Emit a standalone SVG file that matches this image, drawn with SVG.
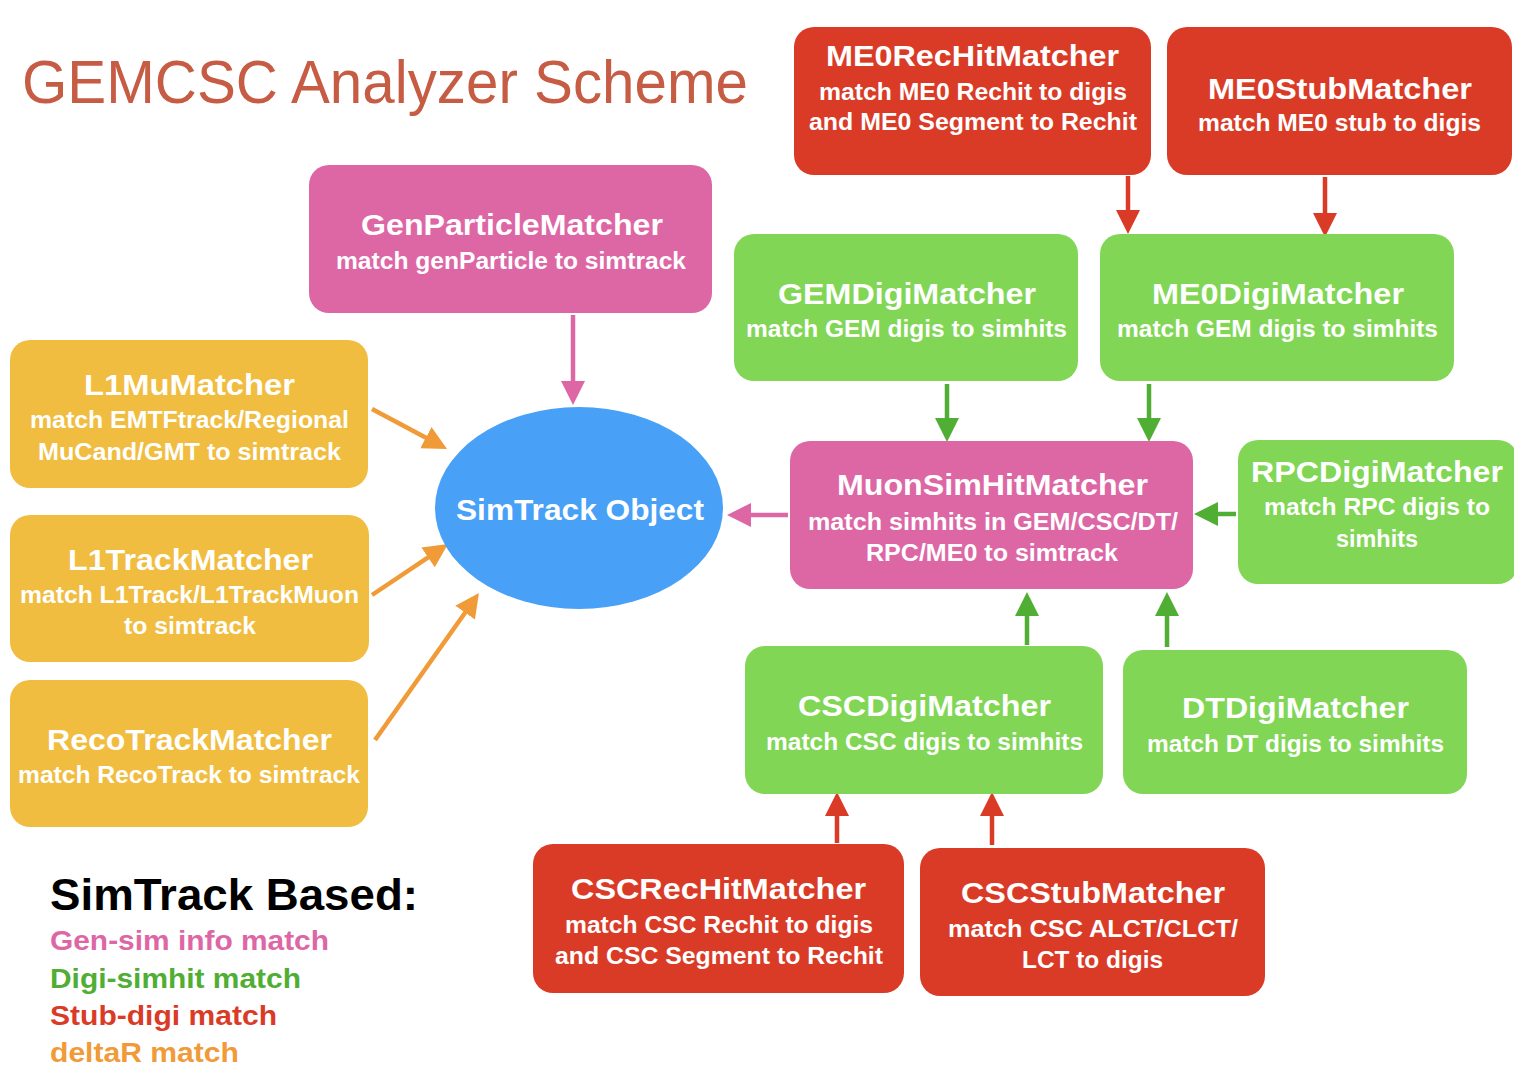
<svg xmlns="http://www.w3.org/2000/svg" width="1514" height="1080" viewBox="0 0 1514 1080">
<defs>
<style>
.t{font-family:"Liberation Sans",Arial,sans-serif;font-weight:bold;fill:#fff;text-anchor:middle}
.h{font-size:29px}
.s{font-size:23px}
.red{fill:#DA3B27}
.pink{fill:#DD67A5}
.green{fill:#81D655}
.yel{fill:#F0BD40}
.lg{font-family:"Liberation Sans",Arial,sans-serif;font-weight:bold;font-size:28px}
.c{fill:none;stroke-width:4.5}
</style>
<marker id="mP" markerUnits="userSpaceOnUse" markerWidth="26" markerHeight="26" refX="14" refY="12" orient="auto"><path d="M0,0 L24,12 L0,24 z" fill="#DD67A5"/></marker>
<marker id="mG" markerUnits="userSpaceOnUse" markerWidth="26" markerHeight="26" refX="14" refY="12" orient="auto"><path d="M0,0 L24,12 L0,24 z" fill="#4FAE33"/></marker>
<marker id="mR" markerUnits="userSpaceOnUse" markerWidth="26" markerHeight="26" refX="14" refY="12" orient="auto"><path d="M0,0 L24,12 L0,24 z" fill="#DA3B27"/></marker>
<marker id="mO" markerUnits="userSpaceOnUse" markerWidth="26" markerHeight="26" refX="14" refY="12" orient="auto"><path d="M0,0 L24,12 L0,24 z" fill="#F09A38"/></marker>
</defs>
<rect width="1514" height="1080" fill="#fff"/>
<text x="22" y="103" font-family="Liberation Sans, Arial, sans-serif" font-size="62" fill="#C65C44" textLength="726" lengthAdjust="spacingAndGlyphs">GEMCSC Analyzer Scheme</text>

<g id="connectors">
<path class="c" stroke="#DD67A5" d="M573,315 L573,395" marker-end="url(#mP)"/>
<path class="c" stroke="#DD67A5" d="M788,515 L737,515" marker-end="url(#mP)"/>
<path class="c" stroke="#F09A38" stroke-width="5" d="M372,409 L438.2,444.3" marker-end="url(#mO)"/>
<path class="c" stroke="#F09A38" stroke-width="5" d="M372,595 L439.7,549.6" marker-end="url(#mO)"/>
<path class="c" stroke="#F09A38" stroke-width="5" d="M375,740 L473.2,601.2" marker-end="url(#mO)"/>
<path class="c" stroke="#4FAE33" d="M947,384 L947,432" marker-end="url(#mG)"/>
<path class="c" stroke="#4FAE33" d="M1149,384 L1149,432" marker-end="url(#mG)"/>
<path class="c" stroke="#4FAE33" d="M1236,514 L1204,514" marker-end="url(#mG)"/>
<path class="c" stroke="#4FAE33" d="M1027,645 L1027,602" marker-end="url(#mG)"/>
<path class="c" stroke="#4FAE33" d="M1167,647 L1167,602" marker-end="url(#mG)"/>
<path class="c" stroke="#DA3B27" d="M1128,176 L1128,224" marker-end="url(#mR)"/>
<path class="c" stroke="#DA3B27" d="M1325,177 L1325,227" marker-end="url(#mR)"/>
<path class="c" stroke="#DA3B27" d="M837,843 L837,802" marker-end="url(#mR)"/>
<path class="c" stroke="#DA3B27" d="M992,845 L992,802" marker-end="url(#mR)"/>
</g>

<g id="me0rechit">
<rect class="red" x="794" y="27" width="357" height="148" rx="20"/>
<text class="t h" x="972.5" y="66" textLength="293" lengthAdjust="spacingAndGlyphs">ME0RecHitMatcher</text>
<text class="t s" x="973" y="100" textLength="308" lengthAdjust="spacingAndGlyphs">match ME0 Rechit to digis</text>
<text class="t s" x="973" y="130" textLength="328" lengthAdjust="spacingAndGlyphs">and ME0 Segment to Rechit</text>
</g>
<g id="me0stub">
<rect class="red" x="1167" y="27" width="345" height="148" rx="20"/>
<text class="t h" x="1340" y="99" textLength="264" lengthAdjust="spacingAndGlyphs">ME0StubMatcher</text>
<text class="t s" x="1339.5" y="131" textLength="283" lengthAdjust="spacingAndGlyphs">match ME0 stub to digis</text>
</g>
<g id="genparticle">
<rect class="pink" x="309" y="165" width="403" height="148" rx="20"/>
<text class="t h" x="512" y="235" textLength="302" lengthAdjust="spacingAndGlyphs">GenParticleMatcher</text>
<text class="t s" x="511" y="269" textLength="350" lengthAdjust="spacingAndGlyphs">match genParticle to simtrack</text>
</g>
<g id="gemdigi">
<rect class="green" x="734" y="234" width="344" height="147" rx="20"/>
<text class="t h" x="907" y="304" textLength="258" lengthAdjust="spacingAndGlyphs">GEMDigiMatcher</text>
<text class="t s" x="906.5" y="337" textLength="321" lengthAdjust="spacingAndGlyphs">match GEM digis to simhits</text>
</g>
<g id="me0digi">
<rect class="green" x="1100" y="234" width="354" height="147" rx="20"/>
<text class="t h" x="1278" y="304" textLength="252" lengthAdjust="spacingAndGlyphs">ME0DigiMatcher</text>
<text class="t s" x="1277.5" y="337" textLength="321" lengthAdjust="spacingAndGlyphs">match GEM digis to simhits</text>
</g>
<g id="l1mu">
<rect class="yel" x="10" y="340" width="358" height="148" rx="20"/>
<text class="t h" x="189.5" y="395" textLength="211" lengthAdjust="spacingAndGlyphs">L1MuMatcher</text>
<text class="t s" x="189.5" y="428" textLength="319" lengthAdjust="spacingAndGlyphs">match EMTFtrack/Regional</text>
<text class="t s" x="189.5" y="460" textLength="303" lengthAdjust="spacingAndGlyphs">MuCand/GMT to simtrack</text>
</g>
<g id="l1track">
<rect class="yel" x="10" y="515" width="359" height="147" rx="20"/>
<text class="t h" x="190.5" y="570" textLength="245" lengthAdjust="spacingAndGlyphs">L1TrackMatcher</text>
<text class="t s" x="189.5" y="603" textLength="339" lengthAdjust="spacingAndGlyphs">match L1Track/L1TrackMuon</text>
<text class="t s" x="190" y="634" textLength="132" lengthAdjust="spacingAndGlyphs">to simtrack</text>
</g>
<g id="recotrack">
<rect class="yel" x="10" y="680" width="358" height="147" rx="20"/>
<text class="t h" x="189.5" y="750" textLength="285" lengthAdjust="spacingAndGlyphs">RecoTrackMatcher</text>
<text class="t s" x="189" y="783" textLength="342" lengthAdjust="spacingAndGlyphs">match RecoTrack to simtrack</text>
</g>
<g id="simtrack">
<ellipse cx="579" cy="508" rx="144" ry="101" fill="#48A1F7"/>
<text class="t" font-size="30" x="580" y="520" textLength="248" lengthAdjust="spacingAndGlyphs">SimTrack Object</text>
</g>
<g id="muonsimhit">
<rect class="pink" x="790" y="441" width="403" height="148" rx="20"/>
<text class="t h" x="992.5" y="495" textLength="311" lengthAdjust="spacingAndGlyphs">MuonSimHitMatcher</text>
<text class="t s" x="993" y="530" textLength="370" lengthAdjust="spacingAndGlyphs">match simhits in GEM/CSC/DT/</text>
<text class="t s" x="992" y="561" textLength="252" lengthAdjust="spacingAndGlyphs">RPC/ME0 to simtrack</text>
</g>
<g id="rpcdigi">
<rect class="green" x="1238" y="440" width="280" height="144" rx="20"/>
<text class="t h" x="1377" y="482" textLength="252" lengthAdjust="spacingAndGlyphs">RPCDigiMatcher</text>
<text class="t s" x="1377" y="515" textLength="226" lengthAdjust="spacingAndGlyphs">match RPC digis to</text>
<text class="t s" x="1377" y="547" textLength="82" lengthAdjust="spacingAndGlyphs">simhits</text>
</g>
<g id="cscdigi">
<rect class="green" x="745" y="646" width="358" height="148" rx="20"/>
<text class="t h" x="924.5" y="716" textLength="253" lengthAdjust="spacingAndGlyphs">CSCDigiMatcher</text>
<text class="t s" x="924.5" y="750" textLength="317" lengthAdjust="spacingAndGlyphs">match CSC digis to simhits</text>
</g>
<g id="dtdigi">
<rect class="green" x="1123" y="650" width="344" height="144" rx="20"/>
<text class="t h" x="1295.5" y="718" textLength="227" lengthAdjust="spacingAndGlyphs">DTDigiMatcher</text>
<text class="t s" x="1295.5" y="752" textLength="297" lengthAdjust="spacingAndGlyphs">match DT digis to simhits</text>
</g>
<g id="cscrechit">
<rect class="red" x="533" y="844" width="371" height="149" rx="20"/>
<text class="t h" x="718.5" y="899" textLength="295" lengthAdjust="spacingAndGlyphs">CSCRecHitMatcher</text>
<text class="t s" x="719" y="933" textLength="308" lengthAdjust="spacingAndGlyphs">match CSC Rechit to digis</text>
<text class="t s" x="719" y="964" textLength="328" lengthAdjust="spacingAndGlyphs">and CSC Segment to Rechit</text>
</g>
<g id="cscstub">
<rect class="red" x="920" y="848" width="345" height="148" rx="20"/>
<text class="t h" x="1093" y="903" textLength="264" lengthAdjust="spacingAndGlyphs">CSCStubMatcher</text>
<text class="t s" x="1093" y="937" textLength="290" lengthAdjust="spacingAndGlyphs">match CSC ALCT/CLCT/</text>
<text class="t s" x="1092.5" y="968" textLength="141" lengthAdjust="spacingAndGlyphs">LCT to digis</text>
</g>

<g id="legend">
<text x="50" y="910" font-family="Liberation Sans, Arial, sans-serif" font-weight="bold" font-size="45" fill="#000" textLength="368" lengthAdjust="spacingAndGlyphs">SimTrack Based:</text>
<text class="lg" x="50" y="950" fill="#DD67A5" textLength="279" lengthAdjust="spacingAndGlyphs">Gen-sim info match</text>
<text class="lg" x="50" y="988" fill="#4FAE33" textLength="251" lengthAdjust="spacingAndGlyphs">Digi-simhit match</text>
<text class="lg" x="50" y="1025" fill="#DA3B27" textLength="227" lengthAdjust="spacingAndGlyphs">Stub-digi match</text>
<text class="lg" x="50" y="1062" fill="#F09A38" textLength="189" lengthAdjust="spacingAndGlyphs">deltaR match</text>
</g>
</svg>
